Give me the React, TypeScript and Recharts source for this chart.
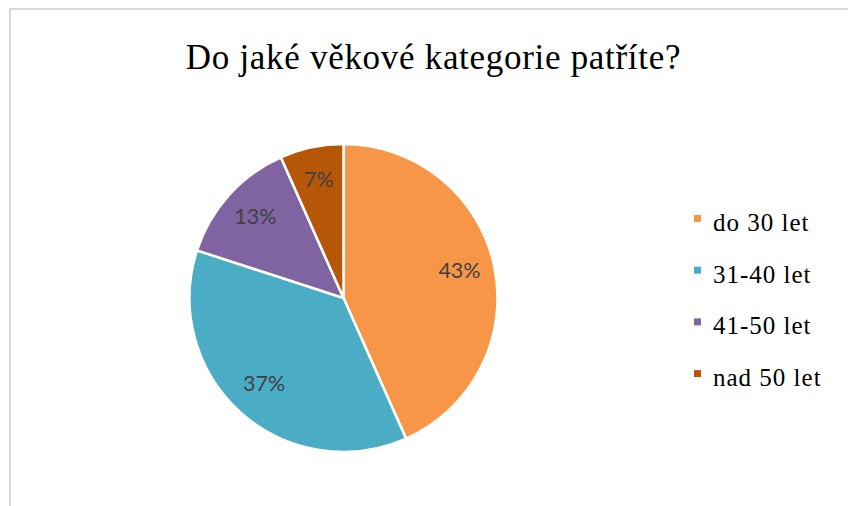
import React from "react";
import { PieChart, Pie, Cell, Legend } from "recharts";

const categories = ["do 30 let", "31-40 let", "41-50 let", "nad 50 let"];
const counts = [13, 11, 4, 2];
const colors = ["#F79646", "#4BACC6", "#8064A2", "#B65708"];
const title = "Do jaké věkové kategorie patříte?";

const data = categories.map((name, i) => ({ name, value: counts[i] }));

const RAD = Math.PI / 180;
const SERIF = "'Liberation Serif', 'Times New Roman', serif";

const renderLabel = (props: any) => {
  const { cx, cy, midAngle, outerRadius, percent } = props;
  const r = outerRadius * 0.77;
  const x = cx + r * Math.cos(-midAngle * RAD);
  const y = cy + r * Math.sin(-midAngle * RAD) - 3;
  return (
    <text
      x={x}
      y={y}
      textAnchor="middle"
      dominantBaseline="central"
      fill="#404040"
      fontFamily="Lato, 'Open Sans', sans-serif"
      fontSize={21.5}
    >
      {`${Math.round(percent * 100)}%`}
    </text>
  );
};

const renderLegend = () => (
  <svg width={150} height={200} style={{ display: "block" }}>
    {data.map((d, i) => (
      <g key={d.name}>
        <rect x={0} y={19 + i * 51.7} width={7} height={7} fill={colors[i]} />
        <text
          x={19}
          y={35 + i * 51.7}
          fontFamily={SERIF}
          fontSize={25}
          letterSpacing={1}
          fill="#000"
        >
          {d.name}
        </text>
      </g>
    ))}
  </svg>
);

export default function App() {
  return (
    <div style={{ position: "absolute", left: 0, top: 0, width: 848, height: 506, background: "#fff" }}>
      <div
        style={{
          position: "absolute",
          left: 9,
          top: 8,
          width: 848,
          height: 506,
          border: "2px solid #D9D9D9",
          boxSizing: "border-box",
        }}
      />
      <svg width={848} height={506} style={{ position: "absolute", left: 0, top: 0 }}>
        <text
          x={433.5}
          y={69}
          textAnchor="middle"
          fontFamily={SERIF}
          fontSize={35}
          letterSpacing={0.7}
          fill="#000"
        >
          {title}
        </text>
      </svg>
      <div style={{ position: "absolute", left: 0, top: 0 }}>
        <PieChart width={848} height={506} margin={{ top: 0, right: 0, bottom: 0, left: 0 }}>
          <Pie
            data={data}
            dataKey="value"
            nameKey="name"
            cx={343.5}
            cy={298}
            outerRadius={154}
            startAngle={90}
            endAngle={-270}
            stroke="#FFFFFF"
            strokeWidth={2.5}
            label={renderLabel}
            labelLine={false}
            isAnimationActive={false}
          >
            {data.map((d, i) => (
              <Cell key={d.name} fill={colors[i]} />
            ))}
          </Pie>
          <Legend
            layout="vertical"
            align="right"
            verticalAlign="top"
            wrapperStyle={{ left: 694, top: 196, width: 150, height: 200 }}
            content={renderLegend}
          />
        </PieChart>
      </div>
    </div>
  );
}
